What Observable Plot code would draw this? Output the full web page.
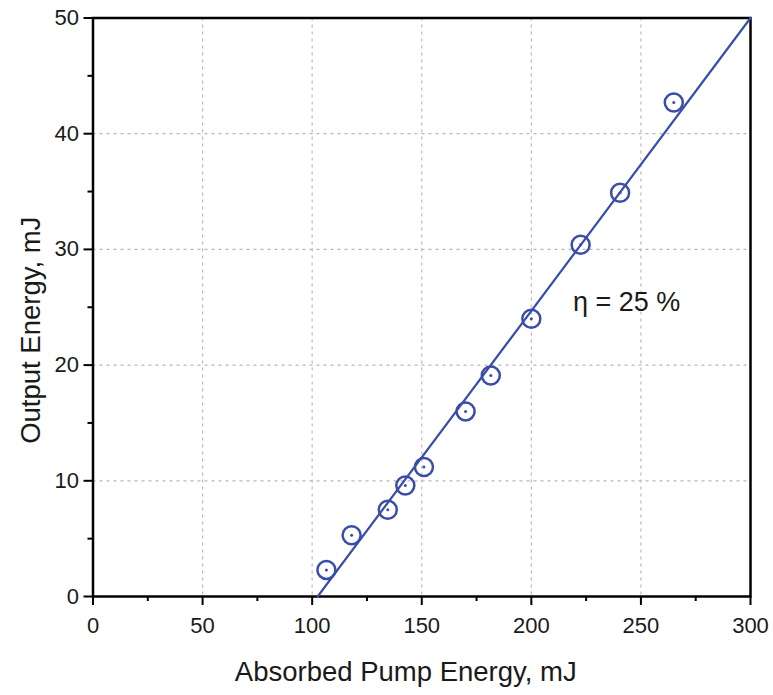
<!DOCTYPE html>
<html>
<head>
<meta charset="utf-8">
<script src="https://cdn.jsdelivr.net/npm/d3@7"></script>
<script src="https://cdn.jsdelivr.net/npm/@observablehq/plot@0.6"></script>
<style>
  html, body { margin: 0; padding: 0; background: #fff; }
  #chart svg { display: block; }
</style>
</head>
<body>
<div id="chart"></div>
<script>
// Measured output energy versus absorbed pump energy
const pumpEnergy = [106.5, 118, 134.5, 142.5, 151, 170, 181.5, 200, 222.5, 240.5, 265];
const outputEnergy = [2.3, 5.3, 7.5, 9.6, 11.2, 16.0, 19.1, 24.0, 30.4, 34.9, 42.7];

// Linear fit (slope efficiency)
const fitX = [102.5, 300];
const fitY = [0, 50];

const xTicks = [0, 50, 100, 150, 200, 250, 300];
const xMinor = [25, 75, 125, 175, 225, 275];
const yTicks = [0, 10, 20, 30, 40, 50];
const yMinor = [5, 15, 25, 35, 45];

const xLabel = "Absorbed Pump Energy, mJ";
const yLabel = "Output Energy, mJ";
const annotation = "η = 25 %";

const points = pumpEnergy.map((x, i) => ({x, y: outputEnergy[i]}));
const fit = fitX.map((x, i) => ({x, y: fitY[i]}));

const blue = "#3a4da8";
const ink = "#1a1a1a";
const font = "'Liberation Sans', Arial, sans-serif";

const chart = Plot.plot({
  width: 773,
  height: 695,
  marginLeft: 92.5,
  marginRight: 23,
  marginTop: 17.5,
  marginBottom: 99,
  style: {fontFamily: font, fontSize: "22px", color: ink, background: "#fff"},
  x: {domain: [0, 300]},
  y: {domain: [0, 50]},
  marks: [
    // dashed grid
    Plot.ruleX(xTicks.filter(d => d > 0 && d < 300), {stroke: "#b8b8b8", strokeWidth: 1.2, strokeDasharray: "3,4"}),
    Plot.ruleY(yTicks.filter(d => d > 0 && d < 50), {stroke: "#b8b8b8", strokeWidth: 1.2, strokeDasharray: "3,4"}),
    // axes with major and minor ticks
    Plot.axisX(xTicks, {tickSize: 9, tickPadding: 12, strokeWidth: 2, stroke: "#000", label: null, fontSize: 22, fill: ink}),
    Plot.axisX(xMinor, {tickSize: 5, strokeWidth: 2, stroke: "#000", text: null, label: null}),
    Plot.axisY(yTicks, {tickSize: 9, tickPadding: 5, strokeWidth: 2, stroke: "#000", label: null, fontSize: 22, fill: ink}),
    Plot.axisY(yMinor, {tickSize: 5, strokeWidth: 2, stroke: "#000", text: null, label: null}),
    Plot.frame({stroke: "#000", strokeWidth: 2.5}),
    // fit line
    Plot.line(fit, {x: "x", y: "y", stroke: blue, strokeWidth: 2.2}),
    // measurements: open circles with centre dot
    Plot.dot(points, {x: "x", y: "y", r: 9, stroke: blue, strokeWidth: 2.5, fill: "none"}),
    Plot.dot(points, {x: "x", y: "y", r: 1.5, fill: blue, stroke: "none"}),
    // annotation
    Plot.text([annotation], {x: 219, y: 25.4, text: d => d, textAnchor: "start", fontSize: 27, fill: ink}),
    // axis titles
    Plot.text([xLabel], {frameAnchor: "bottom", text: d => d, textAnchor: "middle", lineAnchor: "middle", dy: 76, dx: -16, fontSize: 27.5, fill: ink}),
    Plot.text([yLabel], {frameAnchor: "left", text: d => d, textAnchor: "middle", lineAnchor: "middle", rotate: -90, dx: -62, dy: 23, fontSize: 27.5, fill: ink})
  ]
});

document.getElementById("chart").appendChild(chart);
</script>
</body>
</html>
